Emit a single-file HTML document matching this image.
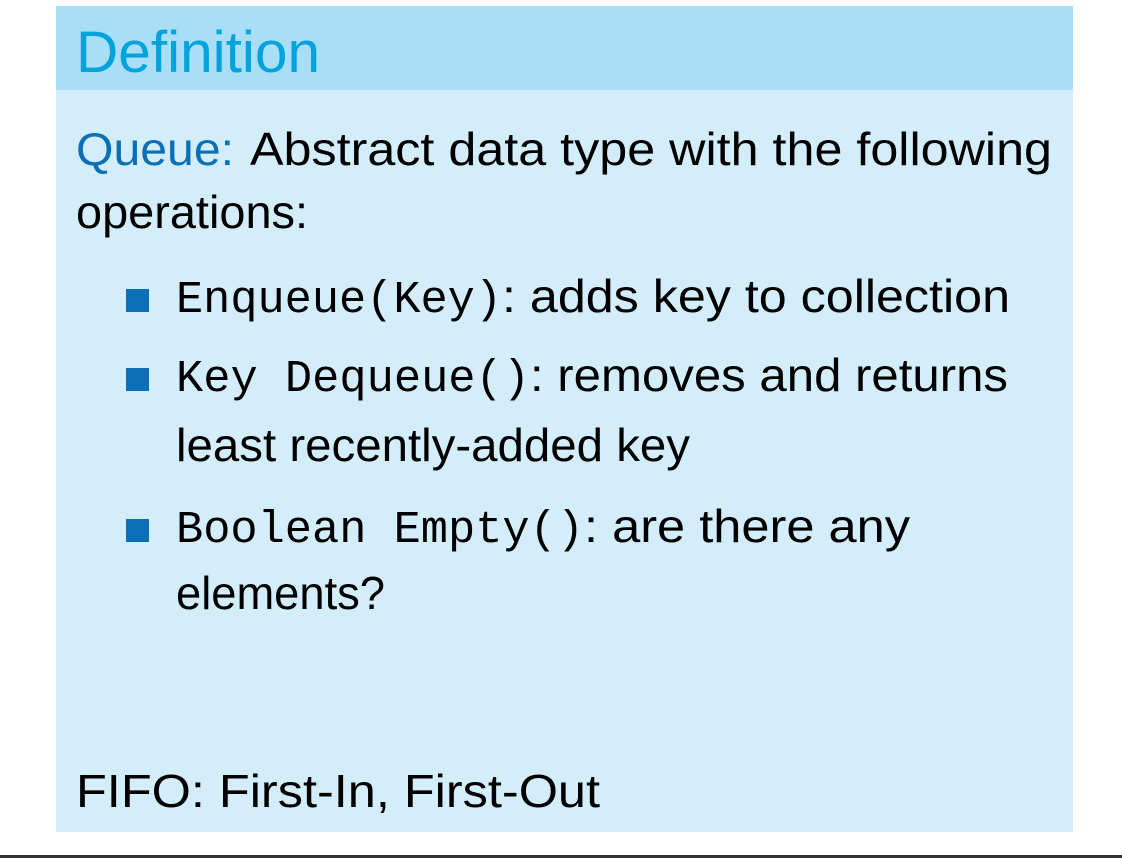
<!DOCTYPE html>
<html><head><meta charset="utf-8"><style>
html,body{margin:0;padding:0;background:#fff;width:1122px;height:858px;overflow:hidden}
svg{display:block}
.s{font-family:"Liberation Sans",sans-serif;font-size:46px;fill:#000}
.m{font-family:"Liberation Mono",monospace;font-size:45px;fill:#000}
</style></head><body>
<svg width="1122" height="858" viewBox="0 0 1122 858">
<rect x="56" y="6" width="1017" height="84" fill="#a8dff6"/>
<rect x="56" y="90" width="1017" height="742" fill="#d3eefa"/>
<rect x="0" y="855" width="1122" height="3" fill="#333"/>
<text x="76" y="72" font-family="Liberation Sans,sans-serif" font-size="58" fill="#00a3dc" textLength="244" lengthAdjust="spacingAndGlyphs">Definition</text>
<text class="s" x="76" y="165" style="fill:#0a6fb4" textLength="158" lengthAdjust="spacingAndGlyphs">Queue:</text>
<text class="s" x="250" y="165" textLength="802" lengthAdjust="spacingAndGlyphs">Abstract data type with the following</text>
<text class="s" x="76" y="228" textLength="232" lengthAdjust="spacingAndGlyphs">operations:</text>
<rect x="126" y="289" width="23" height="23" fill="#0a6fb4"/>
<text class="m" x="176" y="312" textLength="326" lengthAdjust="spacingAndGlyphs">Enqueue(Key)</text>
<text class="s" x="502" y="312" textLength="508" lengthAdjust="spacingAndGlyphs">: adds key to collection</text>
<rect x="126" y="368" width="23" height="23" fill="#0a6fb4"/>
<text class="m" x="176" y="391" textLength="354" lengthAdjust="spacingAndGlyphs">Key Dequeue()</text>
<text class="s" x="530" y="391" textLength="478" lengthAdjust="spacingAndGlyphs">: removes and returns</text>
<text class="s" x="176" y="461" textLength="514" lengthAdjust="spacingAndGlyphs">least recently-added key</text>
<rect x="126" y="519" width="23" height="23" fill="#0a6fb4"/>
<text class="m" x="176" y="542" textLength="408" lengthAdjust="spacingAndGlyphs">Boolean Empty()</text>
<text class="s" x="584" y="542" textLength="326" lengthAdjust="spacingAndGlyphs">: are there any</text>
<text class="s" x="176" y="609" textLength="209" lengthAdjust="spacingAndGlyphs">elements?</text>
<text class="s" x="76" y="807" textLength="524" lengthAdjust="spacingAndGlyphs">FIFO: First-In, First-Out</text>
</svg>
</body></html>
